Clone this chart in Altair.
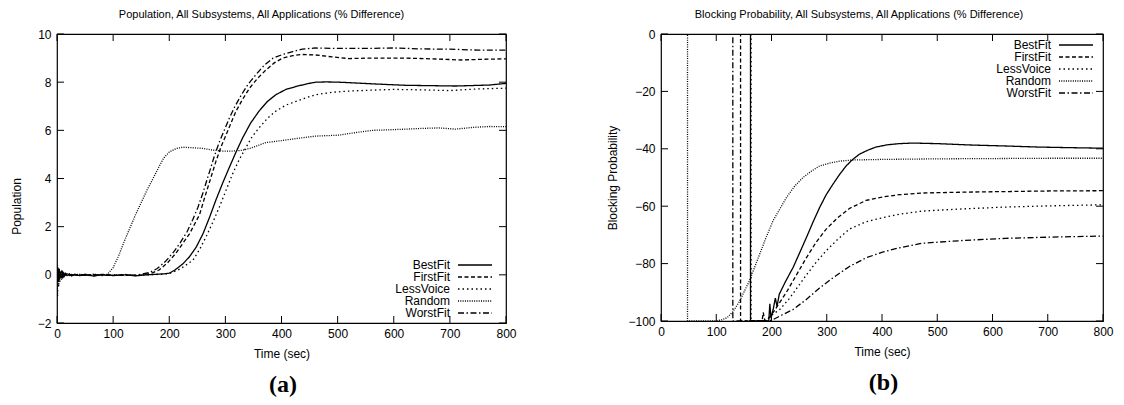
import altair as alt
import pandas as pd

SERIES = ["BestFit", "FirstFit", "LessVoice", "Random", "WorstFit"]
DASHES = [[1, 0], [4, 2.5], [1.5, 3], [1, 1.3], [6, 2.5, 1.5, 2.5]]

X_TICKS = [0, 100, 200, 300, 400, 500, 600, 700, 800]
POP_TICKS = [-2, 0, 2, 4, 6, 8, 10]
BLK_TICKS = [-100, -80, -60, -40, -20, 0]

# ---------------- (a) Population ----------------
pop_bestfit = [(0, 0.3), (1, -0.25), (2, 0.2), (3, -0.3), (4, 0.15), (5, -0.15), (6, 0.1), (8, -0.1),
               (10, 0.08), (12, -0.08), (15, 0.05), (18, -0.03), (22, 0.03), (26, -0.05), (30, 0.0),
               (40, -0.03), (50, 0.02), (65, -0.05), (80, 0.0), (100, -0.03), (120, 0.0), (140, -0.04),
               (160, 0.0), (175, 0.02), (190, 0.04), (200, 0.07), (210, 0.2), (224, 0.45), (236, 0.75),
               (248, 1.15), (260, 1.7), (272, 2.4), (283, 3.1), (295, 3.8), (307, 4.46), (319, 5.1),
               (331, 5.7), (345, 6.3), (360, 6.8), (375, 7.2), (390, 7.48), (408, 7.7), (426, 7.82),
               (445, 7.93), (461, 8.0), (480, 8.01), (500, 8.0), (520, 7.98), (562, 7.93), (591, 7.9),
               (621, 7.87), (650, 7.86), (680, 7.85), (710, 7.84), (740, 7.86), (770, 7.88), (800, 7.95)]
pop_firstfit = [(0, 0.1), (1, -0.3), (2, 0.3), (3, -0.2), (4, 0.2), (5, -0.1), (6, 0.05), (8, -0.12),
                (10, 0.1), (12, -0.05), (15, 0.06), (18, -0.05), (22, 0.02), (26, -0.02), (30, 0.03),
                (40, -0.02), (50, 0.0), (65, -0.04), (80, 0.02), (100, -0.02), (120, 0.0), (140, -0.03),
                (155, 0.0), (170, 0.08), (182, 0.2), (197, 0.5), (212, 0.9), (224, 1.3), (236, 1.7),
                (245, 2.1), (254, 2.5), (263, 3.2), (271, 3.8), (283, 4.7), (292, 5.3), (301, 5.8),
                (310, 6.3), (319, 6.8), (331, 7.3), (343, 7.75), (357, 8.15), (372, 8.5), (387, 8.8),
                (402, 9.0), (420, 9.1), (437, 9.15), (460, 9.13), (490, 9.05), (520, 8.98), (560, 9.0),
                (620, 9.0), (680, 8.96), (720, 8.92), (760, 8.95), (800, 8.97)]
pop_lessvoice = [(0, 0.2), (1, -0.9), (2, 0.1), (3, -0.5), (4, 0.3), (5, -0.3), (6, 0.15), (8, -0.2),
                 (10, 0.1), (12, -0.1), (15, 0.05), (18, -0.06), (22, 0.04), (26, -0.03), (30, 0.02),
                 (40, -0.04), (50, 0.02), (65, -0.03), (80, 0.01), (100, -0.02), (120, 0.02), (140, -0.02),
                 (160, 0.0), (185, 0.02), (200, 0.05), (220, 0.25), (242, 0.6), (254, 1.05), (266, 1.6),
                 (278, 2.2), (289, 2.8), (301, 3.5), (313, 4.2), (325, 4.8), (337, 5.3), (348, 5.75),
                 (360, 6.1), (375, 6.5), (390, 6.8), (408, 7.05), (426, 7.2), (443, 7.35), (461, 7.48),
                 (490, 7.58), (520, 7.63), (550, 7.66), (600, 7.7), (650, 7.68), (700, 7.65), (750, 7.72),
                 (800, 7.75)]
pop_random = [(0, 0.0), (1, 0.4), (2, -0.3), (3, 0.2), (4, -0.2), (5, 0.15), (6, -0.1), (8, 0.08),
              (10, -0.1), (12, 0.05), (15, -0.04), (18, 0.05), (22, -0.02), (26, 0.03), (30, -0.03),
              (40, 0.02), (50, -0.03), (65, 0.02), (80, 0.0), (90, 0.02), (100, 0.3), (110, 0.8),
              (120, 1.4), (130, 1.95), (140, 2.5), (150, 3.0), (160, 3.5), (170, 3.95), (182, 4.5),
              (190, 4.85), (200, 5.1), (212, 5.24), (224, 5.3), (240, 5.28), (260, 5.25),
              (277, 5.18), (295, 5.14), (313, 5.14), (331, 5.17), (350, 5.3), (372, 5.49), (392, 5.55),
              (414, 5.62), (440, 5.7), (461, 5.76), (502, 5.8), (530, 5.9), (562, 6.0), (590, 6.02),
              (621, 6.05), (650, 6.08), (680, 6.1), (710, 6.05), (740, 6.12), (770, 6.16), (800, 6.15)]
pop_worstfit = [(0, -0.1), (1, 0.35), (2, -0.2), (3, 0.25), (4, -0.15), (5, 0.1), (6, -0.05), (8, 0.12),
                (10, -0.06), (12, 0.08), (15, -0.04), (18, 0.05), (22, -0.03), (26, 0.02), (30, -0.02),
                (40, 0.03), (50, -0.02), (65, 0.02), (80, -0.03), (100, 0.0), (120, -0.02), (140, 0.0),
                (150, 0.02), (165, 0.1), (178, 0.25), (193, 0.55), (208, 0.95), (220, 1.35), (232, 1.8),
                (242, 2.3), (251, 2.8), (260, 3.4), (268, 4.0), (280, 4.9), (289, 5.5), (298, 6.0),
                (307, 6.5), (316, 6.95), (328, 7.45), (340, 7.9), (354, 8.3), (369, 8.7), (385, 9.0),
                (402, 9.15), (420, 9.27), (437, 9.37), (460, 9.42), (500, 9.4), (550, 9.4), (600, 9.42),
                (650, 9.38), (700, 9.37), (750, 9.33), (800, 9.33)]

# ---------------- (b) Blocking probability ----------------
blk_bestfit = [(0, 0), (162, 0), (162, -100), (195, -100), (197, -94), (199, -99), (203, -96),
               (207, -92), (210, -95), (214, -90.7), (226, -86), (239, -81.4), (251, -76.2), (263, -71),
               (275, -65.6), (287, -60.5), (299, -56), (311, -52.4), (323, -49), (335, -46),
               (347, -43.7), (359, -41.9), (374, -40.5), (389, -39.4), (410, -38.6), (431, -38.2),
               (455, -38.0), (500, -38.2), (564, -38.7), (620, -39.0), (684, -39.4), (740, -39.6),
               (800, -39.8)]
blk_firstfit = [(0, 0), (144, 0), (144, -100), (183, -100), (185, -97), (188, -100), (195, -99),
                (205, -96.5), (215, -93.5), (227, -90), (245, -84), (263, -78), (281, -72.5),
                (299, -68), (320, -64), (341, -60.8), (371, -58), (401, -56.8), (431, -56),
                (473, -55.4), (550, -55.1), (624, -54.9), (700, -54.7), (800, -54.6)]
blk_lessvoice = [(0, 0), (163, 0), (163, -100), (190, -100), (200, -98), (215, -96), (233, -92),
                 (248, -88), (263, -84), (281, -79.5), (299, -75.5), (320, -71.5), (341, -68),
                 (370, -65.5), (401, -64), (431, -62.8), (473, -61.7), (550, -60.9), (624, -60.3),
                 (700, -59.9), (800, -59.5)]
blk_random = [(0, 0), (48, 0), (48, -100), (100, -100), (110, -99.6), (120, -98.8), (130, -96.8),
              (141, -93.5), (150, -90), (160, -86), (170, -81), (178, -77), (190, -71), (203, -65),
              (215, -61), (227, -57), (242, -53), (257, -50), (272, -47.8), (287, -46), (305, -45),
              (323, -44.3), (347, -43.9), (400, -43.7), (500, -43.5), (600, -43.4), (700, -43.3),
              (800, -43.3)]
blk_worstfit = [(0, 0), (130, 0), (130, -100), (195, -100), (205, -99.3), (218, -98), (239, -96),
                (263, -92.5), (287, -88.5), (311, -85), (341, -81), (371, -78), (401, -76), (431, -74.5),
                (473, -72.9), (550, -71.9), (624, -71.2), (700, -70.8), (800, -70.4)]


def frame(series_pairs):
    rows = []
    for name, pairs in zip(SERIES, series_pairs):
        for i, (t, v) in enumerate(pairs):
            rows.append({"series": name, "t": t, "v": v, "i": i})
    return pd.DataFrame(rows)


df_pop = frame([pop_bestfit, pop_firstfit, pop_lessvoice, pop_random, pop_worstfit])
df_blk = frame([blk_bestfit, blk_firstfit, blk_lessvoice, blk_random, blk_worstfit])

FONT = "Liberation Sans"
TICK = 7
AXIS_STYLE = dict(ticks=False, tickSize=0, domain=False, grid=False,
                  labelFont=FONT, titleFont=FONT, labelFontSize=12, titleFontSize=12,
                  titleFontWeight="normal", labelColor="black", titleColor="black")


def panel(df, ydomain, yticks, ytitle, title, title_dx, width, height,
          legend_x, legend_y, ytitle_x, ytitle_y=None):
    xs = alt.Scale(domain=[0, 800], nice=False, zero=False)
    ys = alt.Scale(domain=ydomain, nice=False, zero=False)
    yaxis_kw = dict(values=yticks, title=ytitle, labelPadding=6, titleX=ytitle_x,
                    titleBaseline="middle", **AXIS_STYLE)
    if ytitle_y is not None:
        yaxis_kw["titleY"] = ytitle_y
    xaxis = alt.Axis(values=X_TICKS, title="Time (sec)", labelPadding=5, titlePadding=9,
                     labelFlush=False, **AXIS_STYLE)
    yaxis = alt.Axis(**yaxis_kw)
    lines = alt.Chart(df).mark_line(color="black", strokeWidth=1.3, clip=True).encode(
        x=alt.X("t:Q", scale=xs, axis=xaxis),
        y=alt.Y("v:Q", scale=ys, axis=yaxis),
        strokeDash=alt.StrokeDash(
            "series:N",
            scale=alt.Scale(domain=SERIES, range=DASHES),
            legend=alt.Legend(title=None, orient="none", legendX=legend_x, legendY=legend_y,
                              symbolType="M-17,0H17", symbolSize=4, symbolStrokeWidth=1.3,
                              symbolStrokeColor="black", labelAlign="right",
                              labelOffset={"expr": "-31"},
                              labelFontSize=12, labelFont=FONT, labelColor="black",
                              rowPadding=0, padding=0, labelLimit=0),
        ),
        order=alt.Order("i:Q"),
    )
    xt = pd.DataFrame({"t": X_TICKS})
    yt = pd.DataFrame({"v": yticks})
    xenc = alt.X("t:Q", scale=xs, axis=xaxis)
    yenc = alt.Y("v:Q", scale=ys, axis=yaxis)
    bottom = alt.Chart(xt).mark_rule(color="black", strokeWidth=1).encode(
        x=xenc, y=alt.value(height), y2=alt.value(height - TICK))
    top = alt.Chart(xt).mark_rule(color="black", strokeWidth=1).encode(
        x=xenc, y=alt.value(0), y2=alt.value(TICK))
    left = alt.Chart(yt).mark_rule(color="black", strokeWidth=1).encode(
        y=yenc, x=alt.value(0), x2=alt.value(TICK))
    right = alt.Chart(yt).mark_rule(color="black", strokeWidth=1).encode(
        y=yenc, x=alt.value(width), x2=alt.value(width - TICK))
    return alt.layer(lines, bottom, top, left, right).properties(
        width=width, height=height,
        title=alt.TitleParams(title, fontSize=11, font=FONT, fontWeight="normal", color="black",
                              anchor="middle", offset=8, dx=title_dx),
    )


panel_a = panel(df_pop, [-2, 10], POP_TICKS, "Population",
                "Population, All Subsystems, All Applications (% Difference)",
                -20, 449, 289, 412, 225, -41, 172)
panel_b = panel(df_blk, [-100, 0], BLK_TICKS, "Blocking Probability",
                "Blocking Probability, All Subsystems, All Applications (% Difference)",
                -23, 442, 287, 409, 5, -49)


def caption(ch, text, dx):
    return alt.vconcat(ch).properties(
        title=alt.TitleParams(text, orient="bottom", font="Liberation Serif", fontSize=24,
                              fontWeight="bold", color="black", anchor="middle", offset=13,
                              dx=dx)
    ).resolve_scale(strokeDash="independent").resolve_legend(strokeDash="independent")


chart = alt.hconcat(caption(panel_a, "(a)", 20), caption(panel_b, "(b)", 24),
                    spacing=88).resolve_scale(
    strokeDash="independent").resolve_legend(strokeDash="independent").properties(
    padding={"left": 1, "top": 0, "right": 0, "bottom": 0}, background="white"
).configure_view(stroke="black", strokeWidth=1.2)

chart.save("out.html", embed_options={"renderer": "svg", "actions": False})
